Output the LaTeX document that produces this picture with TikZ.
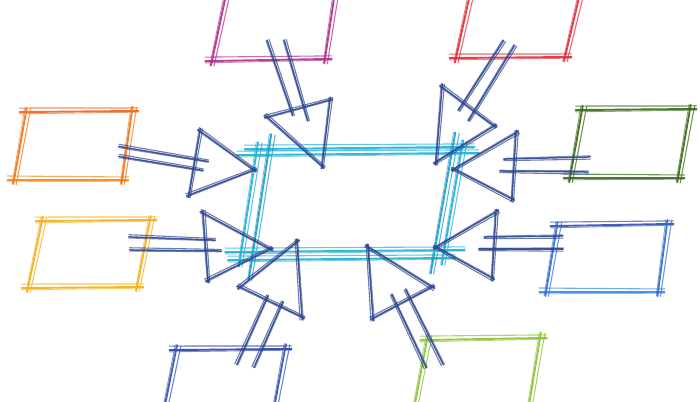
\documentclass[tikz,border=0pt]{standalone}
\usetikzlibrary{calc}
\definecolor{navy}{HTML}{2C4490}
\definecolor{cyanA}{HTML}{1FB0D8}
\definecolor{cyanB}{HTML}{1A9CC4}
\definecolor{orA}{HTML}{F0601C}
\definecolor{orB}{HTML}{F08A12}
\definecolor{yel}{HTML}{F4B01A}
\definecolor{mag}{HTML}{AE2E8A}
\definecolor{redA}{HTML}{E02C3C}
\definecolor{dgreen}{HTML}{386818}
\definecolor{lgreen}{HTML}{8AC238}
\definecolor{blueA}{HTML}{2E4EB6}
\definecolor{blueB}{HTML}{3888E6}
\definecolor{dblue}{HTML}{283EA6}
\definecolor{dblueB}{HTML}{3A62C2}
\newcommand\skA{4pt}
\newcommand\skB{3pt}
\newcommand\skC{1.8pt}
\newcommand\skD{1.2pt}
\newcommand\skext{-0.06}
\newcommand\skW{1.9pt}
\newcommand\skline[3]{%
  \path ($(#2)!\skext!(#3)$) coordinate (sa) ($(#3)!\skext!(#2)$) coordinate (sb);
  \draw[#1,line width=\skW,opacity=.9,line cap=round] (sa) -- (sb);
  \draw[#1,line width=1.1pt,opacity=.7,line cap=round] ($(sa)!\skA!90:(sb)$) -- ($(sb)!\skB!-90:(sa)$);
  \draw[#1,line width=.9pt,opacity=.6,line cap=round] ($(sa)!\skC!-90:(sb)$) -- ($(sb)!\skD!90:(sa)$);
}
\newcommand\skbox[6]{%
  \skline{#1}{#3}{#4}%
  \skline{#2}{#6}{#5}%
  \skline{#1!50!#2}{#3}{#6}%
  \skline{#1!50!#2}{#4}{#5}%
}
% shaft a1-a2, shaft b1-b2, base vertices v1 v2, tip t
\newcommand\skarrow[7]{%
  \skline{navy}{#1}{#2}%
  \skline{navy}{#3}{#4}%
  \skline{navy}{#5}{#6}%
  \skline{navy}{#5}{#7}%
  \skline{navy}{#6}{#7}%
}
\begin{document}
\begin{tikzpicture}[x=1pt,y=-1pt]
\useasboundingbox (0,0) rectangle (700,401);
\fill[white] (0,0) rectangle (700,401);
\clip (0,0) rectangle (700,401);

% outer boxes
\skbox{mag}{mag}{228,-15}{336,-15}{325,59}{212,61}
\skbox{redA}{redA}{472,-15}{582,-15}{565,57}{456,58}
\skbox{orA}{orB}{26,112}{132,111}{122,180}{14,180}
\skbox{yel}{yel}{42,221}{150,220}{137,287}{28,288}
\skbox{dgreen}{dgreen}{582,110}{690,109}{678,178}{570,178}
\skbox{blueA}{blueB}{557,226}{667,224}{658,292}{546,292}
\skbox{dblue}{dblueB}{176,350}{285,349}{270,430}{160,430}
\skbox{lgreen}{lgreen}{427,340}{540,338}{525,430}{410,430}

% central box
\skbox{cyanA}{cyanA}{257,149}{462,147}{443,258}{240,260}
\skline{cyanB}{270,142}{250,272}
\skline{cyanB}{454,140}{432,266}
\skline{cyanA}{250,155}{466,153}
\skline{cyanA}{238,252}{452,250}

% arrows
\renewcommand\skA{2.2pt}
\renewcommand\skB{1.6pt}
\renewcommand\skC{1.2pt}
\renewcommand\skD{0.8pt}
\renewcommand\skext{-0.04}
\renewcommand\skW{1.5pt}
\coordinate (tA) at (254,170);
\coordinate (tB) at (322,166);
\coordinate (tC) at (436,162);
\coordinate (tD) at (454,169);
\coordinate (tE) at (270,249);
\coordinate (tF) at (297,242);
\coordinate (tG) at (436,247);
\coordinate (tH) at (368,247);
\skarrow{122,147}{205,161}{122,157}{200,170}{200,131}{189,195}{tA}
\skarrow{268,43}{292,113}{285,43}{307,118}{267,117}{330,100}{tB}
\skarrow{502,43}{460,108}{513,48}{470,118}{442,87}{494,126}{tC}
\skarrow{587,157}{507,159}{585,172}{503,171}{516,133}{512,199}{tD}
\skarrow{132,237}{212,240}{133,250}{218,251}{203,213}{208,280}{tE}
\skarrow{238,362}{267,298}{255,365}{282,304}{240,287}{302,317}{tF}
\skarrow{560,236}{487,237}{560,249}{482,249}{496,212}{492,278}{tG}
\skarrow{425,365}{393,297}{442,362}{407,292}{373,318}{432,287}{tH}
\end{tikzpicture}
\end{document}
